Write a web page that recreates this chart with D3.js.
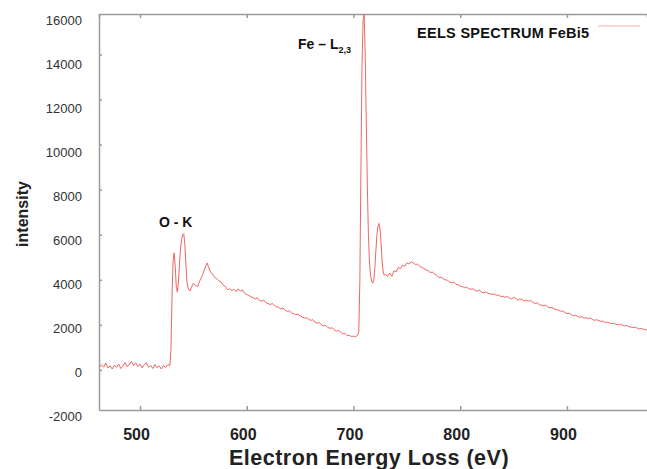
<!DOCTYPE html>
<html>
<head>
<meta charset="utf-8">
<script src="https://cdn.jsdelivr.net/npm/d3@7"></script>
<style>
  body { margin: 0; background: #fff; }
  svg { display: block; font-family: "Liberation Sans", Arial, sans-serif; }
</style>
</head>
<body>
<svg id="chart" width="647" height="469"></svg>
<script>
// EELS spectrum (eV, counts)
const energy = [
  462, 464, 466, 468, 470, 472, 474, 476, 478, 480, 482, 484, 486, 488, 490, 492, 494, 496, 498, 500,
  502, 504, 506, 508, 510, 512, 514, 516, 518, 520, 522, 524, 526, 528, 529, 530, 531, 532, 533, 534,
  535, 536, 537, 538, 539, 540, 541, 542, 543, 544, 545, 546, 547, 548, 550, 552, 554, 556, 558, 560,
  562, 563, 564, 566, 568, 570, 572, 574, 576, 578, 580, 582, 584, 586, 588, 590, 592, 594, 596, 598,
  600, 602, 604, 606, 608, 610, 612, 614, 616, 618, 620, 622, 624, 626, 628, 630, 632, 634, 636, 638,
  640, 642, 644, 646, 648, 650, 652, 654, 656, 658, 660, 662, 664, 666, 668, 670, 672, 674, 676, 678,
  680, 682, 684, 686, 688, 690, 692, 694, 696, 698, 700, 702, 704, 705, 706, 707, 708, 709, 710, 711,
  712, 713, 714, 715, 716, 717, 718, 719, 720, 721, 722, 723, 724, 725, 726, 727, 728, 729, 730, 732,
  734, 736, 738, 740, 742, 744, 746, 748, 750, 752, 754, 756, 758, 760, 762, 764, 766, 768, 770, 772,
  774, 776, 778, 780, 782, 784, 786, 788, 790, 792, 794, 796, 798, 800, 802, 804, 806, 808, 810, 812,
  814, 816, 818, 820, 822, 824, 826, 828, 830, 832, 834, 836, 838, 840, 842, 844, 846, 848, 850, 852,
  854, 856, 858, 860, 862, 864, 866, 868, 870, 872, 874, 876, 878, 880, 882, 884, 886, 888, 890, 892,
  894, 896, 898, 900, 902, 904, 906, 908, 910, 912, 914, 916, 918, 920, 922, 924, 926, 928, 930, 932,
  934, 936, 938, 940, 942, 944, 946, 948, 950, 952, 954, 956, 958, 960, 962, 964, 966, 968, 970, 972,
  974, 976
];
const intensity = [
  150, 220, 120, 300, 80, 180, 40, 210, 110, 260, 60, 170, 330, 140, 250, 380, 200, 310, 150, 260,
  90, 230, 320, 120, 200, 60, 240, 100, 180, 40, 190, 110, 230, 200, 900, 3200, 4800, 5200, 4600, 3700,
  3450, 3900, 4700, 5400, 5800, 6000, 6050, 5600, 4700, 3900, 3650, 3550, 3500, 3650, 3850, 3750, 3700, 3950, 4150, 4400,
  4650, 4750, 4600, 4350, 4250, 4100, 4050, 3950, 3900, 3750, 3700, 3560, 3600, 3520, 3580, 3480, 3600, 3500, 3550, 3400,
  3350, 3300, 3250, 3200, 3150, 3200, 3080, 3050, 3100, 2980, 2950, 2900, 2950, 2860, 2800, 2780, 2700, 2750, 2640, 2600,
  2620, 2530, 2500, 2450, 2480, 2400, 2350, 2300, 2320, 2250, 2200, 2230, 2120, 2080, 2100, 2000, 1950, 1980, 1880, 1850,
  1870, 1780, 1720, 1750, 1680, 1600, 1620, 1520, 1540, 1480, 1500, 1470, 1550, 1700, 4000, 9000, 13500, 15500, 15800, 14000,
  11000, 8200, 6000, 4800, 4200, 3950, 3850, 4000, 4500, 5300, 6000, 6400, 6500, 6200, 5500, 4700, 4300, 4200, 4250, 4150,
  4300, 4150, 4400, 4350, 4550, 4500, 4650, 4600, 4750, 4700, 4800, 4750, 4680, 4700, 4600, 4550, 4500, 4430, 4400, 4320,
  4350, 4250, 4200, 4100, 4120, 4050, 4000, 3980, 3900, 3870, 3900, 3800, 3780, 3720, 3700, 3650, 3680, 3600, 3580, 3600,
  3520, 3500, 3540, 3450, 3420, 3460, 3400, 3380, 3350, 3370, 3300, 3330, 3250, 3280, 3220, 3260, 3200, 3150, 3220, 3180,
  3100, 3150, 3120, 3060, 3100, 3050, 3080, 3000, 2950, 2980, 2900, 2870, 2850, 2880, 2800, 2760, 2780, 2700, 2680, 2650,
  2600, 2620, 2550, 2500, 2520, 2460, 2400, 2430, 2380, 2340, 2360, 2300, 2320, 2280, 2300, 2240, 2200, 2230, 2180, 2150,
  2170, 2100, 2120, 2080, 2050, 2070, 2020, 2000, 2030, 1980, 1950, 1970, 1920, 1900, 1880, 1900, 1850, 1820, 1840, 1800,
  1780, 1760
];
const xTicks = [500, 600, 700, 800, 900];
const yTicks = [-2000, 0, 2000, 4000, 6000, 8000, 10000, 12000, 14000, 16000];
const seriesName = "EELS SPECTRUM FeBi5";

(function () {
  const svg = d3.select("#chart");
  const lineColor = "#ee6662";
  const axisColor = "#9a9a9a";

  const x = d3.scaleLinear().domain([461.6, 975]).range([99, 647]);
  const y = d3.scaleLinear().domain([-1780, 15800]).range([410, 14]);
  // the tick labels sit on a slightly tighter pitch than the tick marks
  const yLabel = d3.scaleLinear().domain([-2000, 16000]).range([416, 20]);

  // frame: top line + top ticks
  svg.append("g")
    .attr("transform", `translate(0,${y.range()[1]})`)
    .call(d3.axisTop(x).tickValues(xTicks).tickSize(-4).tickFormat(""))
    .call(g => g.selectAll("path,line").attr("stroke", axisColor).attr("stroke-width", 1.5));

  // bottom axis
  const gx = svg.append("g")
    .attr("transform", `translate(0,${y.range()[0]})`)
    .call(d3.axisBottom(x).tickValues(xTicks).tickSize(-4).tickPadding(19).tickSizeOuter(0));
  gx.selectAll("path,line").attr("stroke", axisColor).attr("stroke-width", 1.5);
  gx.selectAll("text")
    .attr("fill", "#222")
    .attr("font-size", 16)
    .attr("font-weight", "bold")
    .attr("dx", -4);

  // left axis: ticks inside, labels outside
  svg.append("g")
    .attr("transform", `translate(${x.range()[0]},0)`)
    .call(d3.axisRight(y).tickValues(yTicks.filter(v => v > y.domain()[0] && v < y.domain()[1]))
      .tickSize(3).tickFormat("").tickSizeOuter(0))
    .call(g => g.selectAll("path,line").attr("stroke", axisColor).attr("stroke-width", 1.5));
  const gy = svg.append("g")
    .attr("transform", `translate(${x.range()[0]},0)`)
    .call(d3.axisLeft(y).tickValues(yTicks).tickSize(0).tickPadding(17).tickFormat(v => String(v)));
  gy.select(".domain").remove();
  gy.selectAll("text")
    .attr("fill", "#333")
    .attr("font-size", 13)
    .attr("y", v => yLabel(v) - y(v))
    .attr("dy", "0.35em");

  // spectrum
  const line = d3.line()
    .x((d, i) => x(energy[i]))
    .y(d => y(d));
  svg.append("path")
    .datum(intensity)
    .attr("fill", "none")
    .attr("stroke", lineColor)
    .attr("stroke-width", 1)
    .attr("stroke-linejoin", "round")
    .attr("d", line);

  // legend
  svg.append("text")
    .attr("x", 417).attr("y", 38)
    .attr("font-size", 14.5).attr("font-weight", "bold").attr("fill", "#111")
    .attr("letter-spacing", 0.3)
    .text(seriesName);
  svg.append("line")
    .attr("x1", 598).attr("x2", 640).attr("y1", 26).attr("y2", 26)
    .attr("stroke", lineColor).attr("stroke-width", 1).attr("opacity", 0.5);

  // edge labels
  svg.append("text")
    .attr("x", 159).attr("y", 227)
    .attr("font-size", 14).attr("font-weight", "bold").attr("fill", "#111")
    .text("O - K");
  const fe = svg.append("text")
    .attr("x", 298).attr("y", 49)
    .attr("font-size", 14).attr("font-weight", "bold").attr("fill", "#111");
  fe.append("tspan").text("Fe \u2013 L");
  fe.append("tspan").attr("dy", 4).attr("font-size", 9).text("2,3");

  // axis titles
  svg.append("text")
    .attr("x", 369).attr("y", 465)
    .attr("text-anchor", "middle")
    .attr("font-size", 21.5).attr("font-weight", "bold").attr("fill", "#222")
    .attr("letter-spacing", 0.5)
    .text("Electron Energy Loss (eV)");
  svg.append("text")
    .attr("transform", "translate(28,214) rotate(-90)")
    .attr("text-anchor", "middle")
    .attr("font-size", 16).attr("font-weight", "bold").attr("fill", "#222")
    .text("intensity");
})();
</script>
</body>
</html>
